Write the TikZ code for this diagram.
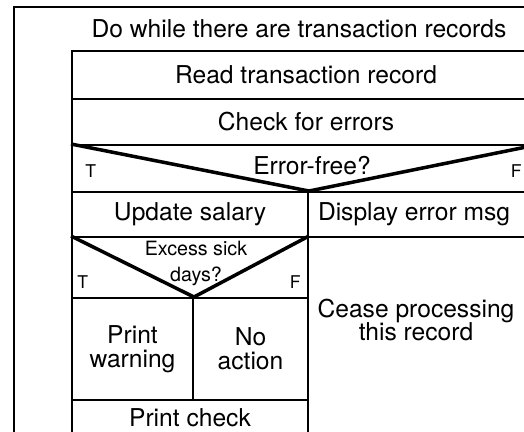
\documentclass[tikz,border=0pt]{standalone}
\usepackage{fontspec}
\setmainfont{TeX Gyre Heros}
\begin{document}
\begin{tikzpicture}[
    box/.style={shape=rectangle, draw, line width=1.1pt, inner sep=0pt, align=center,
                font=\fontsize{14}{13.5}\selectfont},
    txt/.style={inner sep=0pt, align=center, font=\fontsize{14}{13.5}\selectfont},
    small/.style={inner sep=0pt, align=center, font=\fontsize{11.2}{14.8}\selectfont},
    tf/.style={inner sep=0pt, font=\fontsize{10}{10}\selectfont},
    vee/.style={line width=2pt}]
\useasboundingbox (0,0) rectangle (10.48,8.64);
\clip (0,0) rectangle (10.48,8.64);

% loop frame
\node[box, minimum width=10.92cm, minimum height=9.10cm] (loop) at (5.74, 3.95) {};
\node[txt] (dowhile) at (5.98, 8.06) {Do while there are transaction records};

% sequence
\node[box, minimum width=9.36cm, minimum height=0.96cm] (read) at (6.12, 7.14) {Read transaction record};
\node[box, minimum width=9.36cm, minimum height=0.92cm] (check) at (6.12, 6.20) {Check for errors};

% first decision
\node[box, minimum width=9.36cm, minimum height=0.94cm] (errfree) at (6.12, 5.27) {};
\node[txt] (errtxt) at (6.24, 5.33) {Error-free?};
\node[tf, anchor=south west] (T1) at ([xshift=0.28cm, yshift=0.3cm]errfree.south west) {T};
\node[tf, anchor=south east] (F1) at ([xshift=-0.38cm, yshift=0.3cm]errfree.south east) {F};

\node[box, minimum width=4.72cm, minimum height=0.90cm] (update) at (3.80, 4.35) {Update salary};
\node[box, minimum width=4.64cm, minimum height=0.90cm] (display) at (8.48, 4.35) {};
\node[txt] (disptxt) at (8.28, 4.35) {Display error msg};
\draw[vee] (errfree.north west) -- (update.north east) -- (errfree.north east);

% second decision
\node[box, minimum width=4.72cm, minimum height=1.22cm] (sick) at (3.80, 3.29) {};
\node[small] (sicktxt) at (3.92, 3.37) {Excess sick\\days?};
\node[tf, anchor=south west] (T2) at ([xshift=0.12cm, yshift=0.2cm]sick.south west) {T};
\node[tf, anchor=south east] (F2) at ([xshift=-0.16cm, yshift=0.2cm]sick.south east) {F};

\node[box, minimum width=2.42cm, minimum height=2.04cm] (warn) at (2.65, 1.66) {Print\\warning};
\node[box, minimum width=2.30cm, minimum height=2.04cm] (noact) at (5.01, 1.66) {No\\action};
\draw[vee] (sick.north west) -- (warn.north east) -- (sick.north east);

\node[box, minimum width=4.72cm, minimum height=1.28cm] (printchk) at (3.80, 0.0) {};
\node[txt] (chktxt) at (3.80, 0.28) {Print check};

\node[box, minimum width=4.64cm, minimum height=4.50cm] (cease) at (8.48, 1.65) {};
\node[txt] (ceasetxt) at (8.32, 2.24) {Cease processing\\this record};
\end{tikzpicture}
\end{document}
